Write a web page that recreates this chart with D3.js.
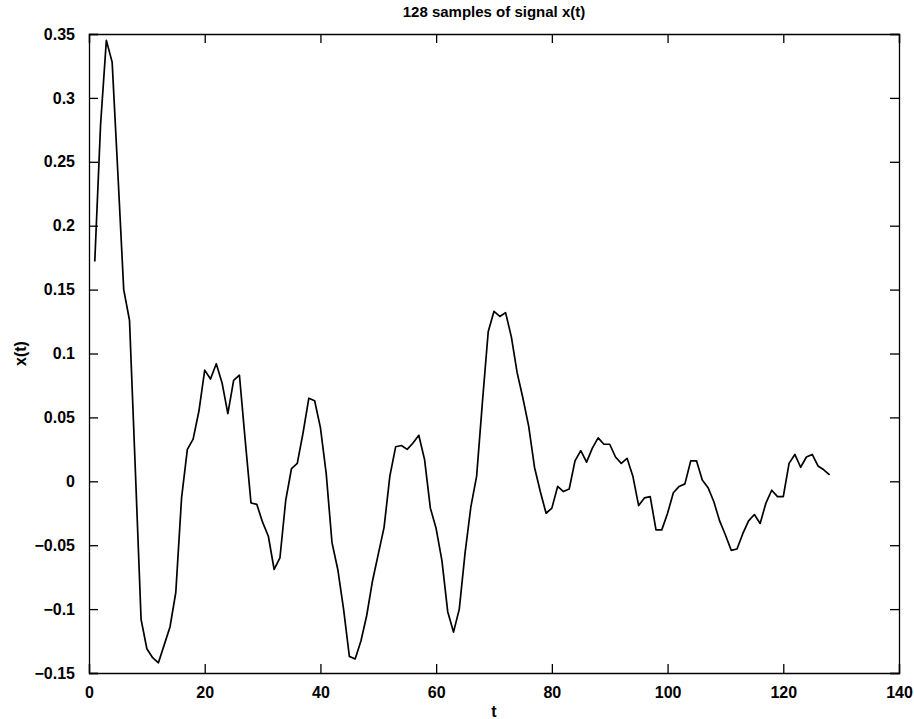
<!DOCTYPE html>
<html>
<head>
<meta charset="utf-8">
<script src="https://cdn.jsdelivr.net/npm/d3@7"></script>
<style>
  html, body { margin: 0; padding: 0; background: #fff; }
  svg { display: block; }
  text { font-family: "Liberation Sans", Arial, Helvetica, sans-serif; fill: #000; }
</style>
</head>
<body>
<svg id="chart" width="914" height="719"></svg>
<script>
// Signal samples x(t), t = 1..128
const sampleIndex = d3.range(1, 129);
const signalValues = [
  0.172, 0.279, 0.345, 0.328, 0.240, 0.150, 0.126, 0.010, -0.108, -0.131,
  -0.138, -0.142, -0.128, -0.114, -0.087, -0.013, 0.025, 0.033, 0.055, 0.087,
  0.080, 0.092, 0.077, 0.053, 0.079, 0.083, 0.032, -0.017, -0.018, -0.032,
  -0.043, -0.069, -0.060, -0.015, 0.010, 0.014, 0.038, 0.065, 0.063, 0.042,
  0.006, -0.048, -0.069, -0.100, -0.137, -0.139, -0.125, -0.105, -0.078, -0.057,
  -0.036, 0.004, 0.027, 0.028, 0.025, 0.030, 0.036, 0.017, -0.021, -0.037,
  -0.062, -0.102, -0.118, -0.100, -0.056, -0.020, 0.004, 0.062, 0.117, 0.133,
  0.129, 0.132, 0.113, 0.085, 0.065, 0.043, 0.011, -0.008, -0.025, -0.021,
  -0.004, -0.008, -0.006, 0.016, 0.024, 0.015, 0.026, 0.034, 0.029, 0.029,
  0.019, 0.014, 0.018, 0.004, -0.019, -0.013, -0.012, -0.038, -0.038, -0.025,
  -0.009, -0.004, -0.002, 0.016, 0.016, 0.001, -0.005, -0.016, -0.031, -0.042,
  -0.054, -0.053, -0.041, -0.031, -0.026, -0.033, -0.017, -0.007, -0.012, -0.012,
  0.014, 0.021, 0.011, 0.019, 0.021, 0.012, 0.009, 0.005
];

const xTicks = [0, 20, 40, 60, 80, 100, 120, 140];
const yTicks = [-0.15, -0.1, -0.05, 0, 0.05, 0.1, 0.15, 0.2, 0.25, 0.3, 0.35];
const yTickLabels = ["\u22120.15", "\u22120.1", "\u22120.05", "0", "0.05", "0.1", "0.15", "0.2", "0.25", "0.3", "0.35"];

const titleText = "128 samples of signal x(t)";
const xLabelText = "t";
const yLabelText = "x(t)";

const svg = d3.select("#chart");
const margin = { left: 89, right: 15, top: 34, bottom: 46 };
const W = 914, H = 719;

const x = d3.scaleLinear().domain([0, 140]).range([margin.left, W - margin.right]);
const y = d3.scaleLinear().domain([-0.15, 0.35]).range([H - margin.bottom, margin.top]);

const tickLen = 9;
const tickFont = 16;
const labelFont = 15;

// Box axes with inward ticks on all four sides
const bottomAxis = d3.axisBottom(x).tickValues(xTicks).tickSize(-tickLen).tickPadding(tickLen + 5)
  .tickFormat(d3.format("d"));
const topAxis = d3.axisTop(x).tickValues(xTicks).tickSize(-tickLen).tickFormat("");
const leftAxis = d3.axisLeft(y).tickValues(yTicks).tickSize(-tickLen).tickPadding(tickLen + 5)
  .tickFormat((d, i) => yTickLabels[i]);
const rightAxis = d3.axisRight(y).tickValues(yTicks).tickSize(-tickLen).tickFormat("");

function styleAxis(g) {
  g.select(".domain").attr("stroke", "#000").attr("stroke-width", 1.3);
  g.selectAll(".tick line").attr("stroke", "#000").attr("stroke-width", 1.3);
  g.selectAll(".tick text")
    .attr("font-size", tickFont)
    .attr("font-weight", "bold")
    .attr("font-family", "'Liberation Sans', Arial, sans-serif")
    .attr("fill", "#000");
}

svg.append("g").attr("transform", `translate(0,${y(-0.15)})`).call(bottomAxis).call(styleAxis);
svg.append("g").attr("transform", `translate(0,${y(0.35)})`).call(topAxis).call(styleAxis);
svg.append("g").attr("transform", `translate(${x(0)},0)`).call(leftAxis).call(styleAxis);
svg.append("g").attr("transform", `translate(${x(140)},0)`).call(rightAxis).call(styleAxis);

// Signal trace
const line = d3.line()
  .x((d, i) => x(sampleIndex[i]))
  .y(d => y(d));

svg.append("path")
  .datum(signalValues)
  .attr("fill", "none")
  .attr("stroke", "#000")
  .attr("stroke-width", 1.7)
  .attr("stroke-linejoin", "round")
  .attr("d", line);

// Title and axis labels
const cx = (x(0) + x(140)) / 2;
svg.append("text")
  .attr("x", cx).attr("y", 17)
  .attr("text-anchor", "middle")
  .attr("font-size", labelFont)
  .attr("font-weight", "bold")
  .text(titleText);

svg.append("text")
  .attr("x", cx).attr("y", 717)
  .attr("text-anchor", "middle")
  .attr("font-size", tickFont)
  .attr("font-weight", "bold")
  .text(xLabelText);

svg.append("text")
  .attr("transform", `translate(26,${(y(-0.15) + y(0.35)) / 2}) rotate(-90)`)
  .attr("text-anchor", "middle")
  .attr("font-size", tickFont)
  .attr("font-weight", "bold")
  .text(yLabelText);
</script>
</body>
</html>
